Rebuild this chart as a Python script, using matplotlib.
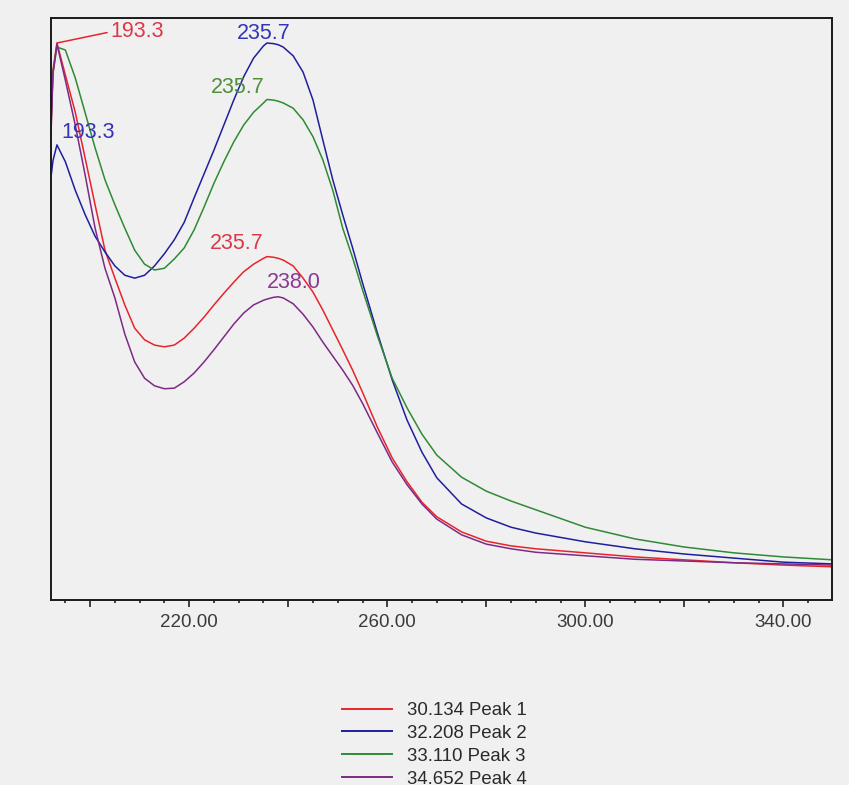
import matplotlib
matplotlib.use("Agg")
import matplotlib.pyplot as plt
from matplotlib.ticker import MultipleLocator, FuncFormatter
from matplotlib.lines import Line2D

plt.rcParams['font.family'] = ['Liberation Sans', 'DejaVu Sans']

# Wavelength grid (nm) shared by all spectra
wavelength = [192.1, 192.5, 193.3, 195, 197, 199, 201, 203, 205, 207, 209, 211,
              213, 215, 217, 219, 221, 223, 225, 227, 229, 231, 233, 235, 235.7,
              237, 238, 239, 241, 243, 245, 247, 249, 251, 253, 255, 258,
              261, 264, 267, 270, 275, 280, 285, 290, 300, 310, 320, 330,
              340, 350]

# Relative absorbance of each peak's UV spectrum
peak1 = [0.808, 0.911, 0.957, 0.902, 0.838, 0.759, 0.679, 0.601, 0.553, 0.507,
         0.467, 0.447, 0.438, 0.435, 0.438, 0.450, 0.467, 0.486, 0.507, 0.527,
         0.546, 0.564, 0.577, 0.587, 0.590, 0.589, 0.587, 0.584, 0.574, 0.553,
         0.529, 0.498, 0.464, 0.430, 0.395, 0.357, 0.297, 0.244, 0.203, 0.168,
         0.143, 0.117, 0.101, 0.093, 0.088, 0.081, 0.074, 0.069, 0.064, 0.060,
         0.057]
peak2 = [0.727, 0.755, 0.782, 0.753, 0.704, 0.662, 0.625, 0.598, 0.574, 0.558,
         0.553, 0.558, 0.574, 0.595, 0.619, 0.649, 0.691, 0.732, 0.773, 0.816,
         0.859, 0.899, 0.931, 0.952, 0.957, 0.956, 0.954, 0.950, 0.935, 0.907,
         0.859, 0.790, 0.722, 0.662, 0.605, 0.545, 0.459, 0.378, 0.309, 0.254,
         0.210, 0.165, 0.141, 0.125, 0.115, 0.100, 0.088, 0.079, 0.072, 0.065,
         0.062]
peak3 = [0.820, 0.905, 0.950, 0.945, 0.897, 0.837, 0.777, 0.722, 0.679, 0.639,
         0.601, 0.577, 0.567, 0.570, 0.586, 0.605, 0.636, 0.675, 0.716, 0.753,
         0.787, 0.816, 0.838, 0.854, 0.860, 0.859, 0.857, 0.854, 0.845, 0.825,
         0.796, 0.756, 0.704, 0.639, 0.588, 0.533, 0.454, 0.381, 0.330, 0.285,
         0.249, 0.211, 0.187, 0.170, 0.155, 0.125, 0.105, 0.091, 0.081, 0.074,
         0.069]
peak4 = [0.800, 0.905, 0.955, 0.893, 0.816, 0.730, 0.639, 0.570, 0.519, 0.457,
         0.409, 0.381, 0.368, 0.363, 0.364, 0.375, 0.390, 0.409, 0.430, 0.452,
         0.474, 0.493, 0.507, 0.515, 0.517, 0.520, 0.521, 0.519, 0.509, 0.491,
         0.469, 0.443, 0.419, 0.395, 0.369, 0.338, 0.287, 0.237, 0.198, 0.165,
         0.139, 0.112, 0.096, 0.088, 0.082, 0.076, 0.070, 0.067, 0.064, 0.062,
         0.060]

series_names = ["30.134 Peak 1", "32.208 Peak 2", "33.110 Peak 3", "34.652 Peak 4"]
line_colors = ["#e8242b", "#1f1f9e", "#2f8a34", "#7d2a86"]
label_colors = ["#d9394a", "#3434b8", "#4f8f3a", "#8a3a92"]

# Peak annotations: (series index, peak wavelength, label x, label y)
peak_marks = [
    (0, 193.3, 204.0, 0.976),
    (1, 193.3, 199.6, 0.804),
    (1, 235.7, 235.1, 0.974),
    (2, 235.7, 229.8, 0.881),
    (0, 235.7, 229.6, 0.613),
    (3, 238.0, 241.2, 0.545),
]

bg = "#f0f0f0"
fig = plt.figure(figsize=(8.49, 7.85), dpi=100, facecolor=bg)
ax = fig.add_axes([51 / 849, 185 / 785, 781 / 849, 582 / 785], facecolor=bg)

spectra = [peak1, peak2, peak3, peak4]
for vals, col in zip(spectra, line_colors):
    ax.plot(wavelength, vals, color=col, lw=1.1)

for idx, wl, tx, ty in peak_marks:
    yv = spectra[idx][wavelength.index(wl)]
    txt = f"{wl:.1f}"
    if idx == 0 and wl == 193.3:
        ax.annotate(txt, xy=(wl, yv), xytext=(tx, ty), ha='left', va='center',
                    fontsize=15.5, color=label_colors[idx],
                    arrowprops=dict(arrowstyle='-', color=line_colors[idx], lw=1.1,
                                    shrinkA=0, shrinkB=0, relpos=(0, 0.5)))
    else:
        ax.text(tx, ty, txt, ha='center', va='center', fontsize=15.5,
                color=label_colors[idx])

ax.set_xlim(192.1, 349.8)
ax.set_ylim(0, 1.0)
ax.set_yticks([])

ax.xaxis.set_major_locator(MultipleLocator(20))
ax.xaxis.set_minor_locator(MultipleLocator(5))
ax.xaxis.set_major_formatter(FuncFormatter(
    lambda v, p: f"{v:.2f}" if round(v - 220) % 40 == 0 else ""))
ax.tick_params(axis='x', which='major', length=5, width=1.2, color='#222222',
               labelsize=13.5, labelcolor='#3a3a3a', pad=5)
ax.tick_params(axis='x', which='minor', length=2.5, width=1.2, color='#222222')

for sp in ax.spines.values():
    sp.set_linewidth(1.4)
    sp.set_color('#1a1a1a')

handles = [Line2D([], [], color=c, lw=1.4) for c in line_colors]
fig.legend(handles, series_names, loc='upper left',
           bbox_to_anchor=(342 / 849, (785 - 702) / 785), frameon=False,
           fontsize=13.4, handlelength=2.7, handletextpad=0.8, labelspacing=0.32,
           borderpad=0, borderaxespad=0, labelcolor='#2a2a2a')

fig.savefig("out.png", dpi=100, facecolor=bg)
